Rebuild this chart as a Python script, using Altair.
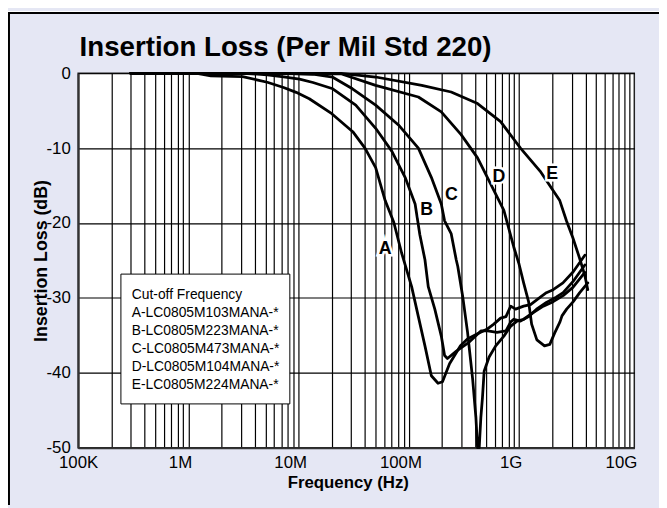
import altair as alt
import pandas as pd

FONT = "Liberation Sans"
BG = "#E5E7F4"

chart_title = "Insertion Loss (Per Mil Std 220)"
curve_names = ["A", "B", "C", "D", "E"]

a_freq = [3.0e5, 1.2e6, 1.6e6, 3.1e6, 5.2e6, 7.3e6, 9.5e6, 1.25e7, 2.0e7, 3.1e7,
          4.0e7, 5.0e7, 6.1e7, 7.3e7, 8.6e7, 1.06e8, 1.22e8, 1.40e8, 1.60e8, 1.84e8,
          2.02e8, 2.34e8, 2.94e8, 3.4e8, 4.2e8, 5.1e8, 5.9e8, 6.8e8, 7.6e8, 8.4e8,
          9.3e8, 1.1e9, 1.27e9, 1.56e9, 1.77e9, 2.04e9, 2.5e9, 3.1e9, 3.95e9]
a_db = [0, 0, -0.35, -0.45, -1.2, -1.9, -2.55, -3.4, -5.4, -7.8,
        -10.0, -12.6, -17.0, -19.9, -24.0, -28.5, -32.5, -36.4, -40.4, -41.4,
        -41.2, -38.8, -36.4, -35.5, -34.8, -34.2, -33.5, -32.7, -32.5, -31.1,
        -31.5, -31.1, -30.9, -29.9, -29.3, -28.9, -28.0, -26.5, -24.3]

b_freq = [3.0e5, 3.2e6, 5.2e6, 7.3e6, 1.02e7, 1.35e7, 2.04e7, 3.3e7, 5.0e7, 7.0e7,
          9.25e7, 1.14e8, 1.26e8, 1.40e8, 1.50e8, 1.72e8, 1.97e8, 2.11e8, 2.24e8, 2.7e8,
          3.53e8, 4.53e8, 5.2e8, 6.3e8, 7.6e8, 8.4e8, 8.95e8, 1.03e9, 1.22e9, 1.44e9,
          1.77e9, 2.17e9, 2.51e9, 3.09e9, 3.95e9]
b_db = [0, 0, -0.22, -0.49, -0.79, -1.23, -2.07, -4.26, -7.35, -10.4,
        -13.9, -17.45, -21.6, -24.9, -28.5, -31.5, -35.1, -37.7, -38.1, -37.1,
        -35.9, -34.4, -34.4, -34.6, -34.4, -33.2, -32.85, -33.1, -32.5, -31.5,
        -30.6, -29.9, -29.3, -27.8, -25.6]

c_freq = [3.0e5, 7.8e6, 1.35e7, 2.04e7, 3.08e7, 5.0e7, 8.05e7, 1.22e8, 1.6e8, 1.97e8,
          2.11e8, 2.42e8, 2.69e8, 2.78e8, 3.08e8, 3.41e8, 3.79e8, 4.06e8, 4.2e8, 4.35e8,
          4.5e8, 4.65e8, 4.82e8, 5.35e8, 6.14e8, 7.28e8, 8.36e8, 9.58e8, 1.1e9, 1.27e9,
          1.66e9, 2.04e9, 2.51e9, 3.08e9, 3.95e9]
c_db = [0, 0, -0.13, -0.53, -2.07, -4.26, -6.9, -10.0, -13.9, -17.45,
        -19.7, -21.4, -24.9, -25.8, -29.8, -34.6, -40.8, -46.0, -50.0, -50.0,
        -46.0, -43.4, -39.8, -37.9, -36.4, -35.1, -33.8, -33.1, -32.85, -32.2,
        -31.1, -30.5, -29.7, -28.6, -26.6]

d_freq = [3.0e5, 2.42e7, 5.0e7, 1.22e8, 1.97e8, 2.98e8, 4.2e8, 5.53e8, 7.28e8, 8.95e8,
          1.0e9, 1.1e9, 1.22e9, 1.3e9, 1.45e9, 1.7e9, 1.9e9, 2.1e9, 2.35e9, 2.45e9,
          2.7e9, 3.1e9, 3.55e9, 4.2e9]
d_db = [0, -0.07, -1.62, -3.17, -5.15, -8.2, -11.3, -14.8, -18.3, -23.2,
        -25.5, -28.0, -30.5, -33.5, -35.6, -36.4, -36.2, -34.7, -33.2, -32.4,
        -31.5, -30.5, -29.3, -28.0]

e_freq = [3.0e5, 2.42e7, 5.0e7, 1.31e8, 2.42e8, 4.2e8, 6.8e8, 1.03e9, 1.55e9, 2.34e9,
          2.69e9, 3.08e9, 3.54e9, 3.95e9, 4.2e9]
e_db = [0, 0, -0.5, -1.62, -2.5, -4.05, -6.46, -9.99, -13.06, -17.0,
        -19.7, -22.0, -24.7, -27.0, -28.9]

label_freq = [6.1e7, 1.45e8, 2.44e8, 6.56e8, 2.0e9]
label_db = [-23.5, -18.3, -16.2, -13.9, -13.4]

legend_lines = ["Cut-off Frequency", "A-LC0805M103MANA-*", "B-LC0805M223MANA-*",
                "C-LC0805M473MANA-*", "D-LC0805M104MANA-*", "E-LC0805M224MANA-*"]

x_tick_values = [100000, 1000000, 10000000, 100000000, 1000000000, 10000000000]
x_tick_labels = ["100K", "1M", "10M", "100M", "1G", "10G"]
y_tick_values = [0, -10, -20, -30, -40, -50]
y_tick_labels = ["0", "-10", "-20", "-30", "-40", "-50"]

# ---- build tables ----
rows = []
for name, fr, db in zip(curve_names, [a_freq, b_freq, c_freq, d_freq, e_freq],
                        [a_db, b_db, c_db, d_db, e_db]):
    for i, (f, d) in enumerate(zip(fr, db)):
        rows.append({"curve": name, "freq": f, "db": d, "order": i})
df = pd.DataFrame(rows)
lab_df = pd.DataFrame({"curve": curve_names, "freq": label_freq, "db": label_db})
leg_df = pd.DataFrame({"txt": ["\n".join(legend_lines)]})
title_df = pd.DataFrame({"txt": [chart_title]})
one = pd.DataFrame({"k": [0]})

W, H = 563, 379
x_scale = alt.Scale(type="log", domain=[1e5, 1.11e10], nice=False)
y_scale = alt.Scale(domain=[-50, 0], nice=False)

grid_vals = [m * 10 ** e for e in range(5, 10) for m in range(1, 10)] + [10 ** 10]


def lab_expr(vals, labs):
    arr_v = "[" + ",".join(str(v) for v in vals) + "]"
    arr_l = "[" + ",".join("'" + s + "'" for s in labs) + "]"
    return f"indexof({arr_v}, datum.value) >= 0 ? {arr_l}[indexof({arr_v}, datum.value)] : ''"


x_axis = alt.Axis(values=grid_vals, labelExpr=lab_expr(x_tick_values, x_tick_labels),
                  labelOverlap=False, labelFlush=False, grid=True, gridColor="#000",
                  gridWidth=1.2, ticks=False, domainColor="#333", domainWidth=2,
                  labelFont=FONT, labelFontSize=17, labelColor="black", labelPadding=7,
                  labelOffset={"condition": {"test": "datum.value == 100000", "value": 0},
                               "value": -8.5},
                  titleFont=FONT, titleFontSize=17, titleFontWeight="bold", titleColor="black",
                  titleX=273, titleY=35, titleBaseline="middle", titleAlign="center")
y_axis = alt.Axis(values=y_tick_values, labelExpr=lab_expr(y_tick_values, y_tick_labels),
                  labelOverlap=False, labelFlush=False, grid=True, gridColor="#000",
                  gridWidth=1.2, ticks=False, domainColor="#333", domainWidth=2,
                  labelFont=FONT, labelFontSize=17, labelColor="black", labelPadding=8,
                  titleFont=FONT, titleFontSize=18, titleFontWeight="bold", titleColor="black",
                  titleX=-37.3, titleY=189.5, titleAngle=270, titleBaseline="middle",
                  titleAlign="center")

x_enc = alt.X("freq:Q", scale=x_scale, axis=x_axis, title="Frequency (Hz)")
y_enc = alt.Y("db:Q", scale=y_scale, axis=y_axis, title="Insertion Loss (dB)")

# decorations (frame of the page panel)
top_white = alt.Chart(one).mark_rect(color="white").encode(
    x=alt.value(-71), x2=alt.value(W + 25), y=alt.value(-63), y2=alt.value(-62))
top_border = alt.Chart(one).mark_rect(color="black").encode(
    x=alt.value(-71), x2=alt.value(W + 25), y=alt.value(-62), y2=alt.value(-60))
left_border = alt.Chart(one).mark_rect(color="black").encode(
    x=alt.value(-71), x2=alt.value(-69), y=alt.value(-62), y2=alt.value(H + 58))

title_text = alt.Chart(title_df).mark_text(
    align="left", baseline="alphabetic", font=FONT, fontSize=28, fontWeight="bold",
    color="black").encode(x=alt.value(1.5), y=alt.value(-17), text="txt:N")

legend_box = alt.Chart(one).mark_rect(fill="white", stroke="black", strokeWidth=1).encode(
    x=alt.value(43.3), x2=alt.value(214.3), y=alt.value(203.3), y2=alt.value(334.7))
legend_text = alt.Chart(leg_df).mark_text(
    align="left", baseline="alphabetic", font=FONT, fontSize=14, color="black",
    lineBreak="\n", lineHeight=18.33).encode(
    x=alt.value(54.3), y=alt.value(228), text="txt:N")

lines = alt.Chart(df).mark_line(color="black", strokeWidth=2.8, strokeJoin="round",
                                strokeCap="round").encode(
    x=x_enc, y=y_enc, detail="curve:N", order="order:Q")

halo = alt.Chart(lab_df).mark_text(font=FONT, fontSize=18, fontWeight="bold",
                                   fill="white", stroke="white", strokeWidth=5,
                                   baseline="middle", align="center").encode(
    x=x_enc, y=y_enc, text="curve:N")
labels = alt.Chart(lab_df).mark_text(font=FONT, fontSize=18, fontWeight="bold",
                                     color="black", baseline="middle", align="center").encode(
    x=x_enc, y=y_enc, text="curve:N")

chart = alt.layer(top_white, top_border, left_border, title_text, legend_box, legend_text,
                  lines, halo, labels).properties(
    width=W, height=H,
    padding={"left": 71, "top": 63, "right": 25, "bottom": 58},
    autosize=alt.AutoSizeParams(type="none"),
    background=BG,
).configure_view(fill="white", stroke="#222", strokeWidth=1.5)

chart.save("out.html", embed_options={"renderer": "svg", "actions": False})
